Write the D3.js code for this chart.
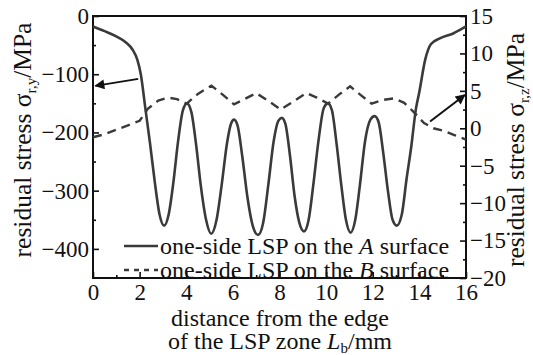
<!DOCTYPE html>
<html>
<head>
<meta charset="utf-8">
<script src="https://cdn.jsdelivr.net/npm/d3@7"></script>
<style>
  body { margin: 0; background: #fff; }
  text { font-family: "Liberation Serif", "DejaVu Serif", serif; fill: #111; }
</style>
</head>
<body>
<svg id="chart" width="533" height="355"></svg>
<script>
// Residual stress after one-side LSP on surface A (left axis, MPa)
const distA = [0, 0.5, 1.0, 1.4, 1.7, 1.9, 2.05, 2.25, 2.45, 2.65, 2.85, 3.05, 3.25, 3.45, 3.65, 3.85,
  4.03, 4.22, 4.42, 4.62, 4.85, 5.07, 5.3, 5.52, 5.75, 5.92, 6.05, 6.2, 6.4, 6.62, 6.85, 7.08, 7.3,
  7.52, 7.75, 7.95, 8.1, 8.25, 8.45, 8.65, 8.85, 9.05, 9.25, 9.45, 9.67, 9.9, 10.08, 10.25, 10.45,
  10.65, 10.85, 11.05, 11.25, 11.45, 11.67, 11.9, 12.08, 12.25, 12.45, 12.65, 12.85, 13.03, 13.25,
  13.45, 13.65, 13.85, 14.0, 14.25, 14.5, 14.9, 15.45, 16];
const stressA = [-18, -26, -35, -45, -58, -75, -100, -160, -220, -285, -340, -360, -340, -285, -215, -163,
  -150, -165, -220, -290, -350, -374, -350, -290, -218, -185, -178, -188, -240, -310, -360, -376, -355,
  -290, -215, -180, -175, -185, -240, -310, -355, -370, -350, -290, -215, -158, -150, -162, -220,
  -290, -350, -372, -350, -290, -215, -178, -172, -182, -235, -300, -350, -360, -340,
  -280, -225, -160, -130, -75, -48, -38, -30, -18];

// Residual stress after one-side LSP on surface B (right axis, MPa)
const distB = [0, 0.5, 1.0, 1.5, 2.0, 2.35, 2.8, 3.2, 3.6, 4.02, 4.5, 5.08, 5.6, 6.05, 6.5, 7.0, 7.5,
  8.05, 8.6, 9.15, 9.6, 10.08, 10.55, 11.03, 11.5, 11.95, 12.45, 12.9, 13.35, 13.75, 14.2, 14.6,
  15.0, 15.5, 16];
const stressB = [-1.2, -0.8, -0.2, 0.4, 1.0, 2.6, 3.7, 4.1, 3.9, 3.3, 4.6, 5.7, 4.4, 3.2, 3.9, 4.7, 3.7,
  2.5, 3.6, 4.7, 4.1, 3.3, 4.5, 5.6, 4.4, 3.3, 3.8, 4.0, 3.4, 2.2, 0.7, 0.0,
  -0.3, -0.9, -1.5];

const xTicks = [0, 2, 4, 6, 8, 10, 12, 14, 16];
const xMinor = [1, 3, 5, 7, 9, 11, 13, 15];
const leftTicks = [0, -100, -200, -300, -400];
const leftMinor = [-50, -150, -250, -350];
const rightTicks = [15, 10, 5, 0, -5, -10, -15, -20];
const rightMinor = [12.5, 7.5, 2.5, -2.5, -7.5, -12.5, -17.5];

// Arrows pointing each curve to its axis: [x0, y0, x1, y1]
const arrowLeft = [1.94, -108, 0.1, -120];
const arrowRight = [14.46, 0.9, 15.95, 4.45];

const svg = d3.select("#chart");
const m = { left: 93, right: 466, top: 16, bottom: 278 };

const x = d3.scaleLinear().domain([0, 16]).range([m.left, m.right]);
const yL = d3.scaleLinear().domain([-450, 0]).range([m.bottom, m.top]);
const yR = d3.scaleLinear().domain([-20, 15]).range([m.bottom, m.top]);

const FS = 23;      // tick labels
const FL = 24;      // legend and x title
const FY = 25.5;    // y titles
const ink = "#3a3a3a";

function styleAxis(g) {
  g.select(".domain").remove();
  g.selectAll(".tick line").attr("stroke", "#111").attr("stroke-width", 1.6);
  g.selectAll(".tick text")
    .style("font-family", '"Liberation Serif", serif')
    .style("font-size", FS + "px")
    .attr("fill", "#111");
}

// bottom axis
svg.append("g").attr("transform", `translate(0,${m.bottom})`)
  .call(d3.axisBottom(x).tickValues(xTicks).tickSize(-6).tickPadding(6).tickFormat(d3.format("d")))
  .call(styleAxis);
svg.append("g").attr("transform", `translate(0,${m.bottom})`)
  .call(d3.axisBottom(x).tickValues(xMinor).tickSize(-3).tickFormat(""))
  .call(styleAxis);

// left axis
svg.append("g").attr("transform", `translate(${m.left},0)`)
  .call(d3.axisLeft(yL).tickValues(leftTicks).tickSize(-6).tickPadding(4))
  .call(styleAxis);
svg.append("g").attr("transform", `translate(${m.left},0)`)
  .call(d3.axisLeft(yL).tickValues(leftMinor).tickSize(-3).tickFormat(""))
  .call(styleAxis);

// right axis
svg.append("g").attr("transform", `translate(${m.right},0)`)
  .call(d3.axisRight(yR).tickValues(rightTicks).tickSize(-6).tickPadding(4))
  .call(styleAxis);
svg.append("g").attr("transform", `translate(${m.right},0)`)
  .call(d3.axisRight(yR).tickValues(rightMinor).tickSize(-3).tickFormat(""))
  .call(styleAxis);

// frame
svg.append("rect")
  .attr("x", m.left).attr("y", m.top)
  .attr("width", m.right - m.left).attr("height", m.bottom - m.top)
  .attr("fill", "none").attr("stroke", "#111").attr("stroke-width", 2);

// curves
const lineA = d3.line().x((d, i) => x(distA[i])).y(d => yL(d)).curve(d3.curveMonotoneX);
const lineB = d3.line().x((d, i) => x(distB[i])).y(d => yR(d));

svg.append("path").attr("d", lineB(stressB))
  .attr("fill", "none").attr("stroke", ink).attr("stroke-width", 2.4)
  .attr("stroke-dasharray", "9,6");
svg.append("path").attr("d", lineA(stressA))
  .attr("fill", "none").attr("stroke", ink).attr("stroke-width", 2.6);

// arrows
svg.append("defs").append("marker")
  .attr("id", "head").attr("viewBox", "0 0 10 10")
  .attr("refX", 9).attr("refY", 5)
  .attr("markerWidth", 7).attr("markerHeight", 5).attr("markerUnits", "strokeWidth")
  .attr("orient", "auto")
  .append("path").attr("d", "M0,0 L10,5 L0,10 Z").attr("fill", "#111");

svg.append("line")
  .attr("x1", x(arrowLeft[0])).attr("y1", yL(arrowLeft[1]))
  .attr("x2", x(arrowLeft[2])).attr("y2", yL(arrowLeft[3]))
  .attr("stroke", "#111").attr("stroke-width", 2).attr("marker-end", "url(#head)");
svg.append("line")
  .attr("x1", x(arrowRight[0])).attr("y1", yR(arrowRight[1]))
  .attr("x2", x(arrowRight[2])).attr("y2", yR(arrowRight[3]))
  .attr("stroke", "#111").attr("stroke-width", 2).attr("marker-end", "url(#head)");

// legend
const legend = svg.append("g");
const rows = [
  { y: 246, dash: null, pre: "one-side LSP on the ", it: "A", post: " surface" },
  { y: 270, dash: "5,5", pre: "one-side LSP on the ", it: "B", post: " surface" }
];
rows.forEach(r => {
  legend.append("line").attr("x1", 124).attr("x2", 158).attr("y1", r.y).attr("y2", r.y)
    .attr("stroke", ink).attr("stroke-width", 2.4)
    .attr("stroke-dasharray", r.dash);
  const t = legend.append("text").attr("x", 160).attr("y", r.y + 8).style("font-size", FL + "px");
  t.append("tspan").text(r.pre);
  t.append("tspan").style("font-style", "italic").text(r.it);
  t.append("tspan").text(r.post);
});

// x title
svg.append("text").attr("text-anchor", "middle").attr("x", 280).attr("y", 326)
  .style("font-size", FL + "px").text("distance from the edge");
const xt2 = svg.append("text").attr("text-anchor", "middle").attr("x", 280).attr("y", 349)
  .style("font-size", FL + "px");
xt2.append("tspan").text("of the LSP zone ");
xt2.append("tspan").style("font-style", "italic").text("L");
xt2.append("tspan").attr("dy", 4).style("font-size", "15px").text("b");
xt2.append("tspan").attr("dy", -4).text("/mm");

// y titles
function yTitle(cx, cy, sub) {
  const t = svg.append("text")
    .attr("transform", `translate(${cx},${cy}) rotate(-90)`)
    .attr("text-anchor", "middle").style("font-size", FY + "px");
  t.append("tspan").text("residual stress σ");
  t.append("tspan").attr("dy", 5).style("font-size", "15px").text(sub);
  t.append("tspan").attr("dy", -5).text("/MPa");
}
yTitle(31, 140, "r,y");
yTitle(524, 150, "r,z");
</script>
</body>
</html>
